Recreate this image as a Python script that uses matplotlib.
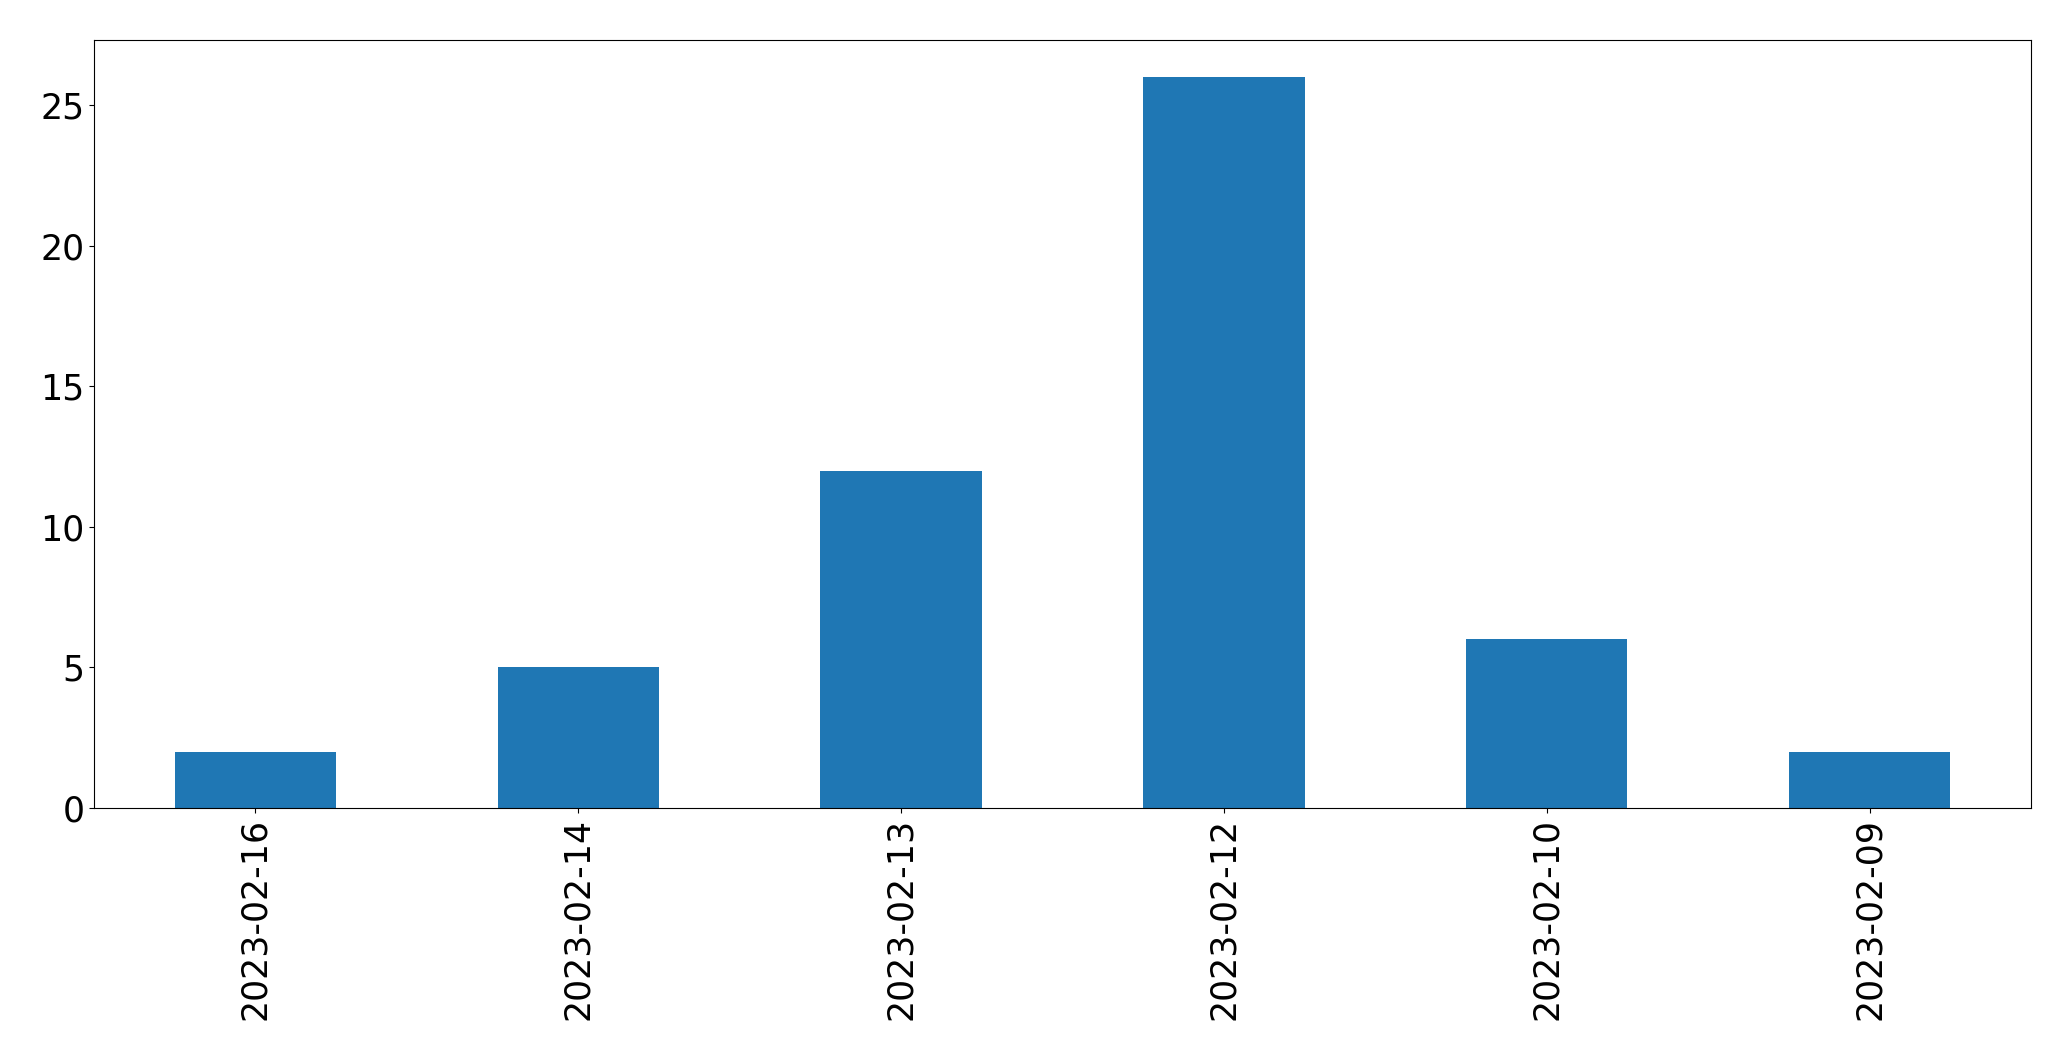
import matplotlib
matplotlib.use("Agg")
import matplotlib.pyplot as plt

dates = ['2023-02-16', '2023-02-14', '2023-02-13', '2023-02-12', '2023-02-10', '2023-02-09']
counts = [2, 5, 12, 26, 6, 2]

fig, ax = plt.subplots(figsize=(20.71, 10.61), dpi=100)
ax.bar(range(len(dates)), counts, width=0.5, color='#1f77b4')
ax.set_xlim(-0.5, len(dates) - 0.5)
ax.set_xticks(range(len(dates)))
ax.set_xticklabels(dates, rotation=90)
ax.tick_params(labelsize=25)

fig.subplots_adjust(left=0.0454, right=0.9807, top=0.962, bottom=0.2385)
fig.savefig('out.png', dpi=100)
